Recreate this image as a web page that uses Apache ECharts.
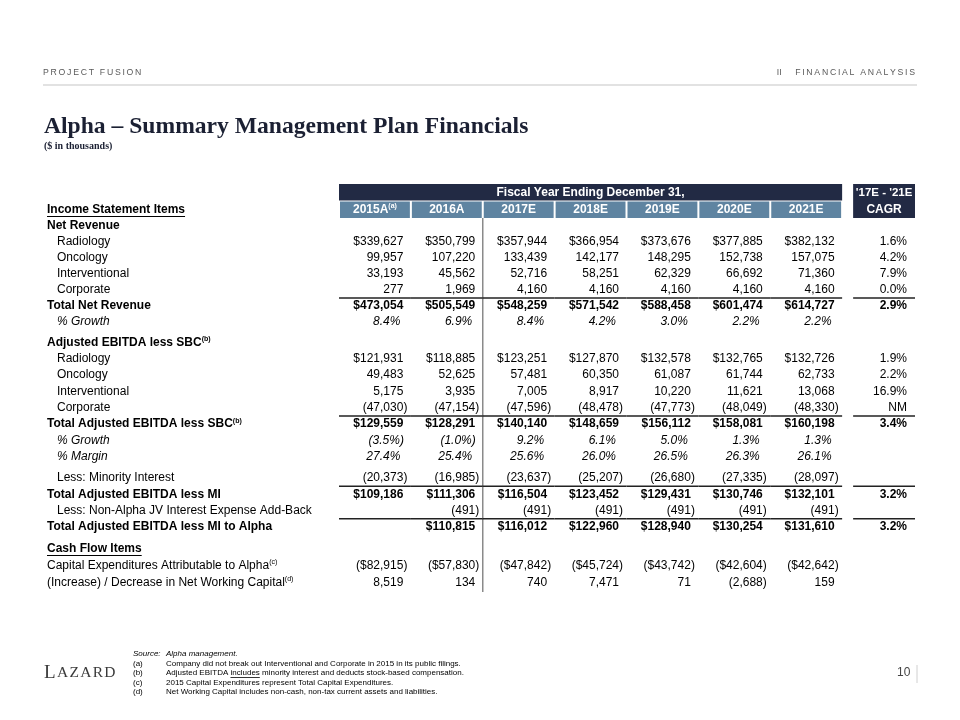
<!DOCTYPE html>
<html><head><meta charset="utf-8">
<script src="https://cdn.jsdelivr.net/npm/echarts@6/dist/echarts.min.js"></script>
<style>html,body{margin:0;padding:0;background:#fff}#c{width:960px;height:720px}</style>
</head><body><div id="c"></div>
<script>
// ---------------- DATA ----------------
const years = ['2015A','2016A','2017E','2018E','2019E','2020E','2021E'];
const yearNotes = ['(a)','','','','','',''];
const cagrHeader = ["'17E - '21E", 'CAGR'];
const fiscalTitle = 'Fiscal Year Ending December 31,';

const revRadiology      = [339627,350799,357944,366954,373676,377885,382132];
const revOncology       = [99957,107220,133439,142177,148295,152738,157075];
const revInterventional = [33193,45562,52716,58251,62329,66692,71360];
const revCorporate      = [277,1969,4160,4160,4160,4160,4160];
const revTotal          = [473054,505549,548259,571542,588458,601474,614727];
const revGrowth         = [8.4,6.9,8.4,4.2,3.0,2.2,2.2];
const revCagr           = [1.6,4.2,7.9,0.0,2.9];

const ebitdaRadiology      = [121931,118885,123251,127870,132578,132765,132726];
const ebitdaOncology       = [49483,52625,57481,60350,61087,61744,62733];
const ebitdaInterventional = [5175,3935,7005,8917,10220,11621,13068];
const ebitdaCorporate      = [-47030,-47154,-47596,-48478,-47773,-48049,-48330];
const ebitdaTotal          = [129559,128291,140140,148659,156112,158081,160198];
const ebitdaGrowth         = [-3.5,-1.0,9.2,6.1,5.0,1.3,1.3];
const ebitdaMargin         = [27.4,25.4,25.6,26.0,26.5,26.3,26.1];
const ebitdaCagr           = [1.9,2.2,16.9,'NM',3.4];

const minorityInterest = [-20373,-16985,-23637,-25207,-26680,-27335,-28097];
const ebitdaLessMI     = [109186,111306,116504,123452,129431,130746,132101];
const jvAddBack        = [null,-491,-491,-491,-491,-491,-491];
const ebitdaToAlpha    = [null,110815,116012,122960,128940,130254,131610];
const miCagr           = [3.2,3.2];

const capex     = [-82915,-57830,-47842,-45724,-43742,-42604,-42642];
const nwcChange = [8519,134,740,7471,71,-2688,159];

const footnoteMarks = ['(a)','(b)','(c)','(d)'];
const footnoteTexts = [
  'Company did not break out Interventional and Corporate in 2015 in its public filings.',
  'Adjusted EBITDA includes minority interest and deducts stock-based compensation.',
  '2015 Capital Expenditures represent Total Capital Expenditures.',
  'Net Working Capital includes non-cash, non-tax current assets and liabilities.'
];

// ---------------- TABLE STRUCTURE ----------------
const sections = [
  [
    {label:'Net Revenue', st:'b'},
    {label:'Radiology', st:'n', vals:revRadiology, fmt:'usd', cagr:revCagr[0]},
    {label:'Oncology', st:'n', vals:revOncology, fmt:'num', cagr:revCagr[1]},
    {label:'Interventional', st:'n', vals:revInterventional, fmt:'num', cagr:revCagr[2]},
    {label:'Corporate', st:'n', vals:revCorporate, fmt:'num', cagr:revCagr[3]},
    {label:'Total Net Revenue', st:'b', vals:revTotal, fmt:'usd', cagr:revCagr[4], bold:true, line:true},
    {label:'% Growth', st:'i', vals:revGrowth, fmt:'pct', italic:true}
  ],
  [
    {label:'Adjusted EBITDA less SBC', sup:'(b)', st:'b'},
    {label:'Radiology', st:'n', vals:ebitdaRadiology, fmt:'usd', cagr:ebitdaCagr[0]},
    {label:'Oncology', st:'n', vals:ebitdaOncology, fmt:'num', cagr:ebitdaCagr[1]},
    {label:'Interventional', st:'n', vals:ebitdaInterventional, fmt:'num', cagr:ebitdaCagr[2]},
    {label:'Corporate', st:'n', vals:ebitdaCorporate, fmt:'num', cagr:ebitdaCagr[3]},
    {label:'Total Adjusted EBITDA less SBC', sup:'(b)', st:'b', vals:ebitdaTotal, fmt:'usd', cagr:ebitdaCagr[4], bold:true, line:true},
    {label:'% Growth', st:'i', vals:ebitdaGrowth, fmt:'pct', italic:true},
    {label:'% Margin', st:'i', vals:ebitdaMargin, fmt:'pct', italic:true}
  ],
  [
    {label:'Less: Minority Interest', st:'n', vals:minorityInterest, fmt:'num'},
    {label:'Total Adjusted EBITDA less MI', st:'b', vals:ebitdaLessMI, fmt:'usd', cagr:miCagr[0], bold:true, line:true},
    {label:'Less: Non-Alpha JV Interest Expense Add-Back', st:'n', vals:jvAddBack, fmt:'num'},
    {label:'Total Adjusted EBITDA less MI to Alpha', st:'b', vals:ebitdaToAlpha, fmt:'usd', cagr:miCagr[1], bold:true, line:true}
  ],
  [
    {label:'Cash Flow Items', st:'b', ul:true},
    {label:'Capital Expenditures Attributable to Alpha', sup:'(c)', st:'n0', vals:capex, fmt:'usd'},
    {label:'(Increase) / Decrease in Net Working Capital', sup:'(d)', st:'n0', vals:nwcChange, fmt:'num'}
  ]
];

// ---------------- LAYOUT / STYLE ----------------
const FF = "'Liberation Sans', Arial, sans-serif";
const SERIF = "'Liberation Serif', 'Times New Roman', serif";
const NAVY = '#222a44';
const STEEL = '#5f84a1';
const GRID_LEFT = 339, GRID_RIGHT = 46, LABEL_MARGIN = 292;
const secGrids = [
  {top:218, height:112},
  {top:334, height:131},
  {top:470, height:65},
  {top:540, height:51}
];
const columns = years.concat(['CAGR']);

const mctx = document.createElement('canvas').getContext('2d');
function tw(text, font){ mctx.font = font; return mctx.measureText(text).width; }

function fmtVal(v, fmt){
  if (v === null || v === undefined) return null;
  if (typeof v === 'string') return {t:v, neg:false};
  const neg = v < 0, a = Math.abs(v);
  let s = fmt === 'pct' ? a.toFixed(1) + '%' : (fmt === 'usd' ? '$' : '') + a.toLocaleString('en-US');
  return {t: neg ? '(' + s + ')' : s, neg};
}

const labelRich = {
  b:  {fontFamily:FF, fontSize:12, fontWeight:'bold', color:'#000', lineHeight:14},
  bs: {fontFamily:FF, fontSize:7, fontWeight:'bold', color:'#000', verticalAlign:'top', lineHeight:9},
  n:  {fontFamily:FF, fontSize:12, color:'#000', lineHeight:14, padding:[0,0,0,10]},
  n0: {fontFamily:FF, fontSize:12, color:'#000', lineHeight:14},
  ns: {fontFamily:FF, fontSize:7, color:'#000', verticalAlign:'top', lineHeight:9},
  i:  {fontFamily:FF, fontSize:12, fontStyle:'italic', color:'#000', lineHeight:14, padding:[0,0,0,10]}
};
function richLabel(r){
  let s = '{' + r.st + '|' + r.label + '}';
  if (r.sup) s += '{' + (r.st === 'b' ? 'bs' : 'ns') + '|' + r.sup + '}';
  return s;
}

function buildCells(rows){
  const cells = [];
  rows.forEach((r, ri) => {
    if (r.ul) cells.push({col:0, row:ri, ulLabel:r.label});
    if (!r.vals) return;
    const font = (r.italic ? 'italic ' : '') + (r.bold ? 'bold ' : '') + '12px ' + FF;
    r.vals.forEach((v, ci) => {
      const f = fmtVal(v, r.fmt);
      let pad = 0;
      if (f) pad = r.fmt === 'pct' ? (f.neg ? 7 : 10.5) : (f.neg ? 3.5 : 7.5);
      cells.push({col:ci, row:ri, text:f ? f.t : null, pad, font, line:!!r.line});
    });
    if (r.cagr !== undefined || r.line) {
      const f = r.cagr !== undefined ? fmtVal(r.cagr, 'pct') : null;
      cells.push({col:7, row:ri, text:f ? f.t : null, pad:7, font, line:!!r.line});
    }
  });
  return cells;
}
const sectionCells = sections.map(buildCells);

function makeRender(cells){
  return function(params, api){
    const c = cells[params.dataIndex];
    const p = api.coord([c.col, c.row]);
    const s = api.size([1, 1]);
    const left = p[0] - s[0] / 2, right = p[0] + s[0] / 2, top = p[1] - s[1] / 2;
    const ch = [];
    if (c.ulLabel) {
      const lx = GRID_LEFT - LABEL_MARGIN;
      const w = tw(c.ulLabel, 'bold 12px ' + FF);
      ch.push({type:'line', shape:{x1:lx, y1:p[1] + 7, x2:lx + w, y2:p[1] + 7}, style:{stroke:'#000', lineWidth:1.2}});
      return {type:'group', children:ch};
    }
    if (c.line) {
      let x1 = left, x2 = right;
      if (c.col === 7) { x1 = left + 11; x2 = right + 1; }
      ch.push({type:'line', shape:{x1, y1:top, x2, y2:top}, style:{stroke:'#222', lineWidth:1.5}});
    }
    if (c.text) {
      ch.push({type:'text', style:{text:c.text, x:right - c.pad, y:p[1], align:'right', verticalAlign:'middle', font:c.font, fill:'#000'}});
    }
    return {type:'group', children:ch};
  };
}

const headerCells = [{kind:'fiscal', text:fiscalTitle}]
  .concat(years.map((y, i) => ({kind:'year', col:i, text:y, note:yearNotes[i]})))
  .concat([{kind:'cagr'}]);
function renderHeader(params, api){
  const h = headerCells[params.dataIndex];
  const s = api.size([1, 1]);
  const boldF = 'bold 12px ' + FF;
  if (h.kind === 'fiscal') {
    const a = api.coord([0, 0]), b = api.coord([6, 0]);
    const x1 = a[0] - s[0] / 2, x2 = b[0] + s[0] / 2, y1 = a[1] - s[1] / 2;
    return {type:'group', children:[
      {type:'rect', shape:{x:x1, y:y1, width:x2 - x1, height:s[1] - 0.5}, style:{fill:NAVY}},
      {type:'text', style:{text:h.text, x:(x1 + x2) / 2, y:a[1] + 0.5, align:'center', verticalAlign:'middle', font:boldF, fill:'#fff'}}
    ]};
  }
  if (h.kind === 'year') {
    const p = api.coord([h.col, 1]);
    const x1 = p[0] - s[0] / 2 + 1, x2 = p[0] + s[0] / 2 - 1, y1 = p[1] - s[1] / 2 + 0.5;
    const txt = h.note ? '{m|' + h.text + '}{s|' + h.note + '}' : '{m|' + h.text + '}';
    return {type:'group', children:[
      {type:'rect', shape:{x:x1, y:y1, width:x2 - x1, height:s[1] - 0.5}, style:{fill:STEEL}},
      {type:'text', style:{text:txt, x:p[0], y:p[1] + 0.5, align:'center', verticalAlign:'middle',
        rich:{m:{fontFamily:FF, fontSize:12, fontWeight:'bold', fill:'#fff', lineHeight:14},
              s:{fontFamily:FF, fontSize:7, fontWeight:'bold', fill:'#fff', verticalAlign:'top', lineHeight:9}}}}
    ]};
  }
  const a = api.coord([7, 0]), b = api.coord([7, 1]);
  const x1 = a[0] - s[0] / 2 + 11, x2 = a[0] + s[0] / 2 + 1;
  const y1 = a[1] - s[1] / 2, y2 = b[1] + s[1] / 2;
  const f2 = 'bold 11.5px ' + FF;
  return {type:'group', children:[
    {type:'rect', shape:{x:x1, y:y1, width:x2 - x1, height:y2 - y1}, style:{fill:NAVY}},
    {type:'text', style:{text:cagrHeader[0], x:(x1 + x2) / 2, y:a[1] + 0.5, align:'center', verticalAlign:'middle', font:f2, fill:'#fff'}},
    {type:'text', style:{text:cagrHeader[1], x:(x1 + x2) / 2, y:b[1] + 0.5, align:'center', verticalAlign:'middle', font:boldF, fill:'#fff'}}
  ]};
}

function renderDivider(params, api){
  const top = api.coord([2, 1]), bot = api.coord([2, 0]);
  const x = top[0] - api.size([1, 0])[0] / 2;
  return {type:'line', shape:{x1:x, y1:top[1], x2:x, y2:bot[1]}, style:{stroke:'#8a8a8a', lineWidth:1.5}};
}

// ---------------- OPTION ----------------
const grids = [], xAxes = [], yAxes = [], series = [];
function addGrid(g, yData, yFmt, yType){
  const idx = grids.length;
  grids.push({left:GRID_LEFT, right:GRID_RIGHT, top:g.top, height:g.height, containLabel:false});
  xAxes.push({type:'category', gridIndex:idx, data:columns, show:false, boundaryGap:true});
  if (yType === 'value') {
    yAxes.push({type:'value', gridIndex:idx, min:0, max:1, show:false});
  } else {
    yAxes.push({type:'category', gridIndex:idx, data:yData, inverse:true, boundaryGap:true,
      axisLine:{show:false}, axisTick:{show:false}, splitLine:{show:false},
      axisLabel:{show:true, interval:0, align:'left', margin:LABEL_MARGIN, formatter:yFmt, rich:labelRich}});
  }
  return idx;
}

const hIdx = addGrid({top:184, height:34}, ['', 'Income Statement Items'],
  (v, i) => i === 1 ? '{b|Income Statement Items}' : '');
series.push({type:'custom', xAxisIndex:hIdx, yAxisIndex:hIdx, clip:false, silent:true,
  renderItem:renderHeader, data:headerCells.map(() => [0, 0])});
series.push({type:'custom', xAxisIndex:hIdx, yAxisIndex:hIdx, clip:false, silent:true,
  renderItem:makeRender([{col:0, row:1, ulLabel:'Income Statement Items'}]), data:[[0, 1]]});

const dIdx = addGrid({top:218, height:374}, null, null, 'value');
series.push({type:'custom', xAxisIndex:dIdx, yAxisIndex:dIdx, clip:false, silent:true, renderItem:renderDivider, data:[[2, 0]]});

sections.forEach((rows, si) => {
  const labels = rows.map(r => r.label);
  const rich = rows.map(richLabel);
  const idx = addGrid(secGrids[si], labels, (v, i) => rich[i]);
  const cells = sectionCells[si];
  series.push({type:'custom', xAxisIndex:idx, yAxisIndex:idx, clip:false, silent:true,
    renderItem:makeRender(cells), data:cells.map(c => [c.col, c.row])});
});

const sp = s => s.split('').join('\u2009');
const noteFont = '8px ' + FF;
const graphic = [
  {type:'text', x:43, y:73, style:{text:sp('PROJECT') + '\u2009 \u2009' + sp('FUSION'), font:'8.7px ' + FF, fill:'#595959', verticalAlign:'middle'}},
  {type:'text', x:915, y:73, style:{text:'II \u2003 ' + sp('FINANCIAL') + '\u2009 \u2009' + sp('ANALYSIS'), font:'8.7px ' + FF, fill:'#595959', align:'right', verticalAlign:'middle'}},
  {type:'line', shape:{x1:43, y1:85, x2:917, y2:85}, style:{stroke:'#d9d9d9', lineWidth:1.5}},
  {type:'text', x:44, y:127, style:{text:'Alpha – Summary Management Plan Financials', font:'bold 23.6px ' + SERIF, fill:'#1b2033', verticalAlign:'middle'}},
  {type:'text', x:44, y:146, style:{text:'($ in thousands)', font:'bold 10px ' + SERIF, fill:'#1b2033', verticalAlign:'middle'}},
  {type:'text', x:44, y:673, style:{text:'{a|L}{b|\u200AA\u200AZ\u200AA\u200AR\u200AD}', verticalAlign:'middle',
    rich:{a:{fontFamily:SERIF, fontSize:19, fill:'#3a3a3a'}, b:{fontFamily:SERIF, fontSize:15.5, fill:'#3a3a3a'}}}},
  {type:'text', x:133, y:654, style:{text:'Source:', font:'italic ' + noteFont, fill:'#000', verticalAlign:'middle'}},
  {type:'text', x:166, y:654, style:{text:'Alpha management.', font:'italic ' + noteFont, fill:'#000', verticalAlign:'middle'}},
  {type:'text', x:897, y:673, style:{text:'10', font:'12px ' + FF, fill:'#444', verticalAlign:'middle'}},
  {type:'line', shape:{x1:917, y1:665, x2:917, y2:683}, style:{stroke:'#d0d0d0', lineWidth:1}}
];
footnoteTexts.forEach((t, i) => {
  const y = 663.5 + i * 9.5;
  graphic.push({type:'text', x:133, y, style:{text:footnoteMarks[i], font:noteFont, fill:'#000', verticalAlign:'middle'}});
  graphic.push({type:'text', x:166, y, style:{text:t, font:noteFont, fill:'#000', verticalAlign:'middle'}});
  const k = t.indexOf('includes');
  if (i === 1 && k >= 0) {
    const x0 = 166 + tw(t.slice(0, k), noteFont), w = tw('includes', noteFont);
    graphic.push({type:'line', shape:{x1:x0, y1:y + 4.5, x2:x0 + w, y2:y + 4.5}, style:{stroke:'#000', lineWidth:0.8}});
  }
});

const chart = echarts.init(document.getElementById('c'), null, {renderer:'canvas'});
chart.setOption({
  animation:false,
  backgroundColor:'#fff',
  grid:grids, xAxis:xAxes, yAxis:yAxes, series, graphic
});
</script>
</body></html>
